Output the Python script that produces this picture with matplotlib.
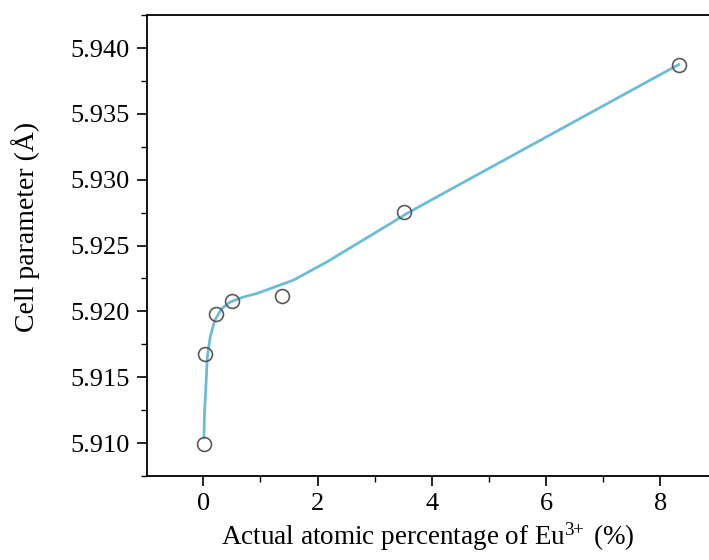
import numpy as np
import matplotlib.pyplot as plt
from matplotlib.ticker import MultipleLocator, FormatStrFormatter

eu_pct = [0.01, 0.03, 0.22, 0.51, 1.37, 3.51, 8.32]
cell_a = [5.9099, 5.9168, 5.9198, 5.9208, 5.92115, 5.92755, 5.93875]

# fitted guide line, sampled off the figure
fit_x = [0.01, 0.02, 0.05, 0.07, 0.12, 0.20, 0.32, 0.47, 0.70, 0.93, 1.17,
         1.57, 2.16, 2.74, 3.32, 3.56, 4.14, 6.00, 8.32]
fit_y = [5.9104, 5.91223, 5.91477, 5.91654, 5.91805, 5.91932, 5.92021,
         5.92071, 5.92109, 5.92135, 5.92173, 5.92236, 5.92375, 5.92527,
         5.92679, 5.92743, 5.92882, 5.93324, 5.93875]

plt.rcParams['font.family'] = ['Liberation Serif', 'DejaVu Serif']
plt.rcParams['mathtext.fontset'] = 'custom'
plt.rcParams['mathtext.rm'] = 'Liberation Serif'
plt.rcParams['mathtext.it'] = 'Liberation Serif:italic'
plt.rcParams['mathtext.bf'] = 'Liberation Serif:bold'

fig = plt.figure(figsize=(7.09, 5.6), dpi=100)
ax = fig.add_axes([0.207, 0.15, 0.793, 0.823])

ax.plot(fit_x, fit_y, color='#6cbcd8', lw=2.0, solid_joinstyle='round', zorder=2)
ax.plot(eu_pct, cell_a, 'o', ms=10, mfc='none', mec='#595959', mew=1.2, zorder=3)

ax.set_xlim(-0.99, 8.85)
ax.set_ylim(5.9075, 5.9425)

ax.xaxis.set_major_locator(MultipleLocator(2))
ax.xaxis.set_minor_locator(MultipleLocator(1))
ax.yaxis.set_major_locator(MultipleLocator(0.005))
ax.yaxis.set_minor_locator(MultipleLocator(0.0025))
ax.yaxis.set_major_formatter(FormatStrFormatter('%.3f'))

ax.spines['right'].set_visible(False)
for s in ['left', 'bottom', 'top']:
    ax.spines[s].set_linewidth(1.3)
ax.tick_params(which='major', direction='out', length=7, width=1.2, labelsize=19, pad=5)
ax.tick_params(which='minor', direction='out', length=4, width=1.0)

ax.set_xlabel('Actual atomic percentage of Eu$\\mathregular{^{3\\!\\!+}}$ (%)', fontsize=19.5, labelpad=4)
ax.set_ylabel('Cell parameter (Å)', fontsize=20)
ax.yaxis.set_label_coords(-0.19, 0.54)

fig.savefig('out.png', dpi=100)
